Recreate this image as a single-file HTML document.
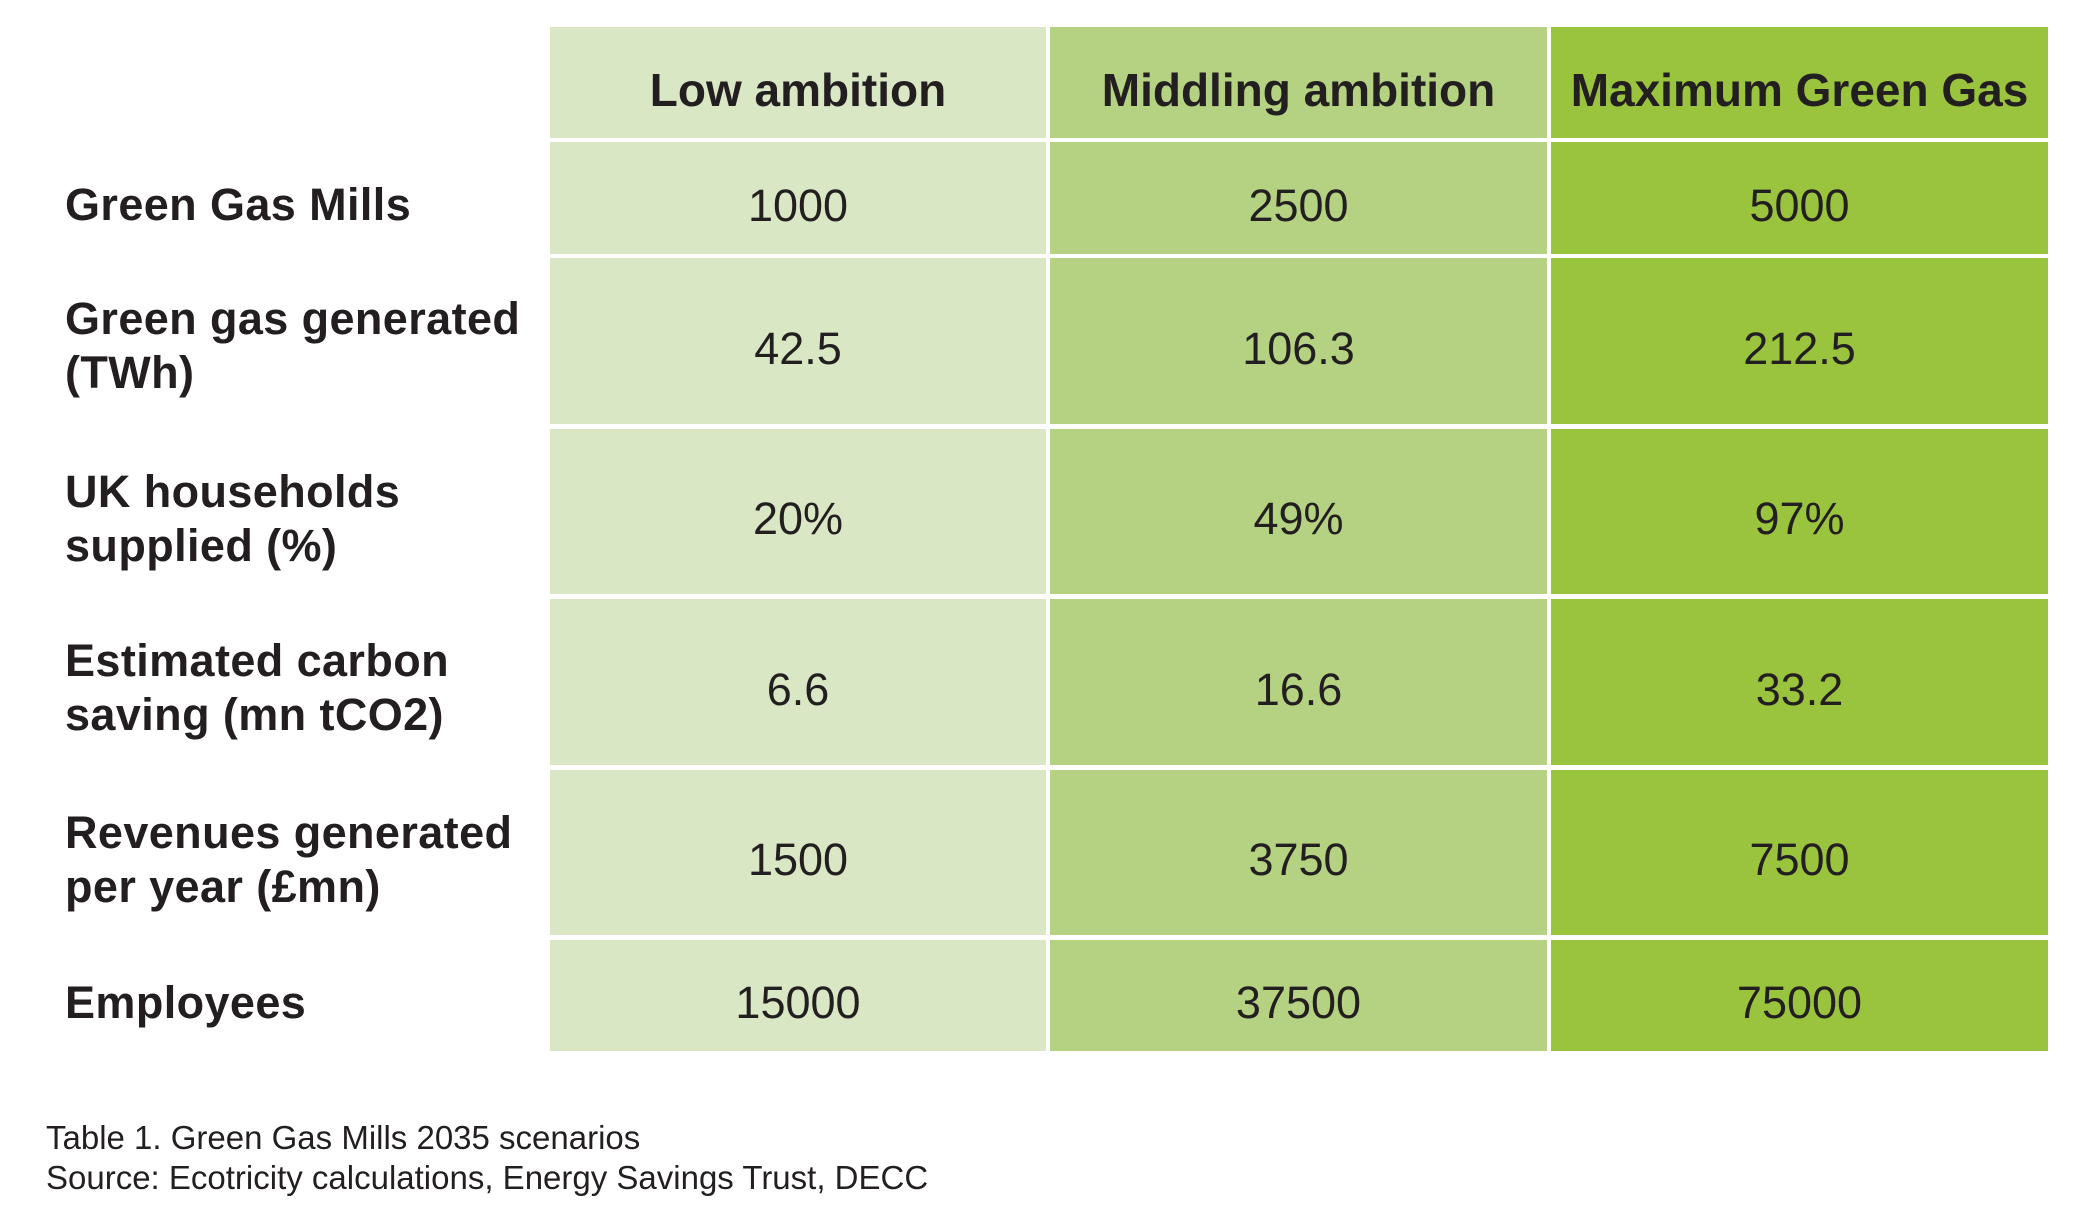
<!DOCTYPE html>
<html>
<head>
<meta charset="utf-8">
<style>
  html, body { margin:0; padding:0; background:#ffffff; }
  body { width:2086px; height:1213px; position:relative; overflow:hidden;
         font-family:"Liberation Sans", Arial, Helvetica, sans-serif; color:#231f20; }
  .c { position:absolute; }
  .c1 { background:#d9e7c5; left:550px; width:496px; }
  .c2 { background:#b5d283; left:1050px; width:497px; }
  .c3 { background:#9bc43e; left:1551px; width:497px; }
  .t { position:absolute; text-align:center; white-space:nowrap; }
  .h { font-weight:bold; font-size:46px; line-height:46px; height:46px; top:67px; }
  .d { font-size:45px; line-height:45px; height:45px; }
  .x1 { left:550px; width:496px; }
  .x2 { left:1050px; width:497px; }
  .x3 { left:1551px; width:497px; }
  .lab { position:absolute; left:65px; font-weight:bold; font-size:45px; line-height:54px; white-space:nowrap; letter-spacing:0.4px; }
  .cap { position:absolute; left:46px; font-size:33px; line-height:40px; white-space:nowrap; }
</style>
</head>
<body>
  <!-- header row -->
  <div class="c c1" style="top:27px;height:111px"></div>
  <div class="c c2" style="top:27px;height:111px"></div>
  <div class="c c3" style="top:27px;height:111px"></div>
  <!-- row 1 -->
  <div class="c c1" style="top:142px;height:112px"></div>
  <div class="c c2" style="top:142px;height:112px"></div>
  <div class="c c3" style="top:142px;height:112px"></div>
  <!-- row 2 -->
  <div class="c c1" style="top:258px;height:166px"></div>
  <div class="c c2" style="top:258px;height:166px"></div>
  <div class="c c3" style="top:258px;height:166px"></div>
  <!-- row 3 -->
  <div class="c c1" style="top:429px;height:165px"></div>
  <div class="c c2" style="top:429px;height:165px"></div>
  <div class="c c3" style="top:429px;height:165px"></div>
  <!-- row 4 -->
  <div class="c c1" style="top:599px;height:166px"></div>
  <div class="c c2" style="top:599px;height:166px"></div>
  <div class="c c3" style="top:599px;height:166px"></div>
  <!-- row 5 -->
  <div class="c c1" style="top:770px;height:165px"></div>
  <div class="c c2" style="top:770px;height:165px"></div>
  <div class="c c3" style="top:770px;height:165px"></div>
  <!-- row 6 -->
  <div class="c c1" style="top:940px;height:111px"></div>
  <div class="c c2" style="top:940px;height:111px"></div>
  <div class="c c3" style="top:940px;height:111px"></div>

  <!-- headers -->
  <div class="t h x1">Low ambition</div>
  <div class="t h x2">Middling ambition</div>
  <div class="t h x3">Maximum Green Gas</div>

  <!-- data -->
  <div class="t d x1" style="top:182.6px">1000</div>
  <div class="t d x2" style="top:182.6px">2500</div>
  <div class="t d x3" style="top:182.6px">5000</div>

  <div class="t d x1" style="top:325.6px">42.5</div>
  <div class="t d x2" style="top:325.6px">106.3</div>
  <div class="t d x3" style="top:325.6px">212.5</div>

  <div class="t d x1" style="top:496.1px">20%</div>
  <div class="t d x2" style="top:496.1px">49%</div>
  <div class="t d x3" style="top:496.1px">97%</div>

  <div class="t d x1" style="top:666.6px">6.6</div>
  <div class="t d x2" style="top:666.6px">16.6</div>
  <div class="t d x3" style="top:666.6px">33.2</div>

  <div class="t d x1" style="top:837.1px">1500</div>
  <div class="t d x2" style="top:837.1px">3750</div>
  <div class="t d x3" style="top:837.1px">7500</div>

  <div class="t d x1" style="top:980.1px">15000</div>
  <div class="t d x2" style="top:980.1px">37500</div>
  <div class="t d x3" style="top:980.1px">75000</div>

  <!-- row labels -->
  <div class="lab" style="top:178px">Green Gas Mills</div>
  <div class="lab" style="top:292.4px">Green gas generated<br>(TWh)</div>
  <div class="lab" style="top:464.7px">UK households<br>supplied (%)</div>
  <div class="lab" style="top:634.4px">Estimated carbon<br>saving (mn tCO2)</div>
  <div class="lab" style="top:805.7px">Revenues generated<br>per year (£mn)</div>
  <div class="lab" style="top:976.1px">Employees</div>

  <!-- caption -->
  <div class="cap" style="top:1117.9px">Table 1. Green Gas Mills 2035 scenarios<br>Source: Ecotricity calculations, Energy Savings Trust, DECC</div>
</body>
</html>
